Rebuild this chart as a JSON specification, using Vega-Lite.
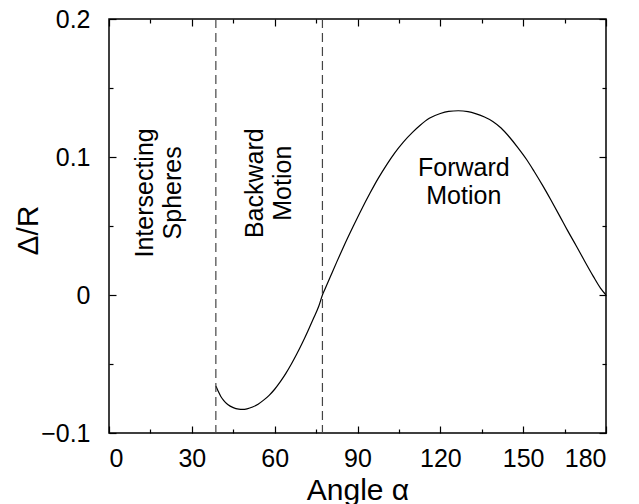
{
  "$schema": "https://vega.github.io/schema/vega-lite/v6.json",
  "width": 497,
  "height": 414,
  "autosize": {"type": "none"},
  "padding": {"left": 109, "top": 19, "right": 33, "bottom": 71},
  "background": "white",
  "config": {
    "view": {"stroke": "black", "strokeWidth": 1.5},
    "font": "Liberation Sans",
    "axis": {
      "grid": false,
      "domain": false,
      "tickColor": "black",
      "tickWidth": 1.2,
      "labelColor": "black",
      "titleColor": "black",
      "labelFont": "Liberation Sans",
      "titleFont": "Liberation Sans",
      "labelFontSize": 25,
      "titleFontSize": 30,
      "titleFontWeight": "normal"
    }
  },
  "layer": [
    {
      "data": {"values": [
        {"alpha": 38.7, "d": -0.066},
        {"alpha": 39.5, "d": -0.0695},
        {"alpha": 40.5, "d": -0.0735},
        {"alpha": 41.5, "d": -0.0763},
        {"alpha": 43, "d": -0.0793},
        {"alpha": 45, "d": -0.0816},
        {"alpha": 47, "d": -0.0827},
        {"alpha": 48.3, "d": -0.0829},
        {"alpha": 50, "d": -0.0825},
        {"alpha": 52, "d": -0.0812},
        {"alpha": 54, "d": -0.0791},
        {"alpha": 56, "d": -0.0762},
        {"alpha": 58, "d": -0.0727},
        {"alpha": 60, "d": -0.0683},
        {"alpha": 62, "d": -0.063},
        {"alpha": 64, "d": -0.057},
        {"alpha": 66, "d": -0.0502},
        {"alpha": 68, "d": -0.0428},
        {"alpha": 70, "d": -0.0348},
        {"alpha": 72, "d": -0.0262},
        {"alpha": 74, "d": -0.0172},
        {"alpha": 76, "d": -0.008},
        {"alpha": 77.3, "d": 0.0},
        {"alpha": 78, "d": 0.0033},
        {"alpha": 80, "d": 0.0125},
        {"alpha": 82.5, "d": 0.024},
        {"alpha": 85, "d": 0.0352},
        {"alpha": 88.5, "d": 0.05},
        {"alpha": 91.5, "d": 0.0622},
        {"alpha": 94.5, "d": 0.0737},
        {"alpha": 97.5, "d": 0.0845},
        {"alpha": 100.6, "d": 0.0945},
        {"alpha": 103.5, "d": 0.103},
        {"alpha": 106.6, "d": 0.1108},
        {"alpha": 110, "d": 0.118},
        {"alpha": 112.6, "d": 0.1228},
        {"alpha": 116, "d": 0.128},
        {"alpha": 120, "d": 0.1315},
        {"alpha": 123, "d": 0.133},
        {"alpha": 126.5, "d": 0.1335},
        {"alpha": 130, "d": 0.1329},
        {"alpha": 133, "d": 0.1313},
        {"alpha": 136, "d": 0.129},
        {"alpha": 139, "d": 0.1258},
        {"alpha": 142, "d": 0.121},
        {"alpha": 145, "d": 0.1145},
        {"alpha": 148, "d": 0.107},
        {"alpha": 151.3, "d": 0.098},
        {"alpha": 154, "d": 0.0895},
        {"alpha": 157.3, "d": 0.0785},
        {"alpha": 160, "d": 0.069},
        {"alpha": 163.3, "d": 0.057},
        {"alpha": 166, "d": 0.047},
        {"alpha": 169.4, "d": 0.035},
        {"alpha": 172, "d": 0.0255},
        {"alpha": 175.4, "d": 0.0135},
        {"alpha": 178, "d": 0.005},
        {"alpha": 180, "d": 0.0}
      ]},
      "mark": {"type": "line", "color": "black", "strokeWidth": 1.2, "interpolate": "monotone", "clip": true},
      "encoding": {
        "x": {"field": "alpha", "type": "quantitative",
          "scale": {"domain": [0, 180], "nice": false, "zero": false},
          "axis": {"orient": "bottom", "values": [0, 30, 60, 90, 120, 150, 180], "offset": -7, "tickSize": 7, "labelPadding": 13, "title": "Angle α", "titlePadding": 4}},
        "y": {"field": "d", "type": "quantitative",
          "scale": {"domain": [-0.1, 0.2], "nice": false, "zero": false},
          "axis": {"orient": "left", "values": [-0.1, 0, 0.1, 0.2], "offset": -7, "tickSize": 7, "labelPadding": 19,
            "labelExpr": "datum.value == 0 ? '0' : format(datum.value, '.1f')",
            "title": "Δ/R", "titleAngle": 270, "titleBaseline": "middle", "titleX": -88, "titleY": 211}}
      }
    },
    {
      "data": {"values": [{"x": 38.7}, {"x": 77.3}]},
      "mark": {"type": "rule", "color": "#444", "strokeWidth": 1.2, "strokeDash": [9, 5]},
      "encoding": {
        "x": {"field": "x", "type": "quantitative",
          "scale": {"domain": [0, 180], "nice": false, "zero": false},
          "axis": {"orient": "top", "values": [0, 30, 60, 90, 120, 150, 180], "offset": -7, "tickSize": 7, "labels": false, "title": null}}
      }
    },
    {
      "data": {"values": [{"x": 128.5, "y": 0.092, "label": "Forward\nMotion"}]},
      "mark": {"type": "text", "fontSize": 25, "font": "Liberation Sans", "color": "black", "align": "center", "baseline": "middle", "lineBreak": "\n", "lineHeight": 28},
      "encoding": {
        "x": {"field": "x", "type": "quantitative",
          "scale": {"domain": [0, 180], "nice": false, "zero": false},
          "axis": {"orient": "bottom", "values": [15, 45, 75, 105, 135, 165], "offset": -4, "tickSize": 4, "labels": false, "title": null}},
        "y": {"field": "y", "type": "quantitative",
          "scale": {"domain": [-0.1, 0.2], "nice": false, "zero": false},
          "axis": {"orient": "left", "values": [-0.05, 0.05, 0.15], "offset": -4, "tickSize": 4, "labels": false, "title": null}},
        "text": {"field": "label"}
      }
    },
    {
      "data": {"values": [
        {"x": 13.1, "y": 0.074, "label": "Intersecting\nSpheres"},
        {"x": 52.9, "y": 0.081, "label": "Backward\nMotion"}
      ]},
      "mark": {"type": "text", "fontSize": 25, "font": "Liberation Sans", "color": "black", "align": "center", "baseline": "middle", "angle": 270, "lineBreak": "\n", "lineHeight": 28},
      "encoding": {
        "x": {"field": "x", "type": "quantitative",
          "scale": {"domain": [0, 180], "nice": false, "zero": false},
          "axis": {"orient": "top", "values": [15, 45, 75, 105, 135, 165], "offset": -4, "tickSize": 4, "labels": false, "title": null}},
        "y": {"field": "y", "type": "quantitative",
          "scale": {"domain": [-0.1, 0.2], "nice": false, "zero": false},
          "axis": {"orient": "right", "values": [-0.05, 0.05, 0.15], "offset": -4, "tickSize": 4, "labels": false, "title": null}},
        "text": {"field": "label"}
      }
    },
    {
      "data": {"values": [{"y": -0.1}, {"y": 0}, {"y": 0.1}, {"y": 0.2}]},
      "mark": {"type": "point", "opacity": 0},
      "encoding": {
        "y": {"field": "y", "type": "quantitative",
          "scale": {"domain": [-0.1, 0.2], "nice": false, "zero": false},
          "axis": {"orient": "right", "values": [-0.1, 0, 0.1, 0.2], "offset": -7, "tickSize": 7, "labels": false, "title": null}}
      }
    }
  ],
  "resolve": {"axis": {"x": "independent", "y": "independent"}}
}
